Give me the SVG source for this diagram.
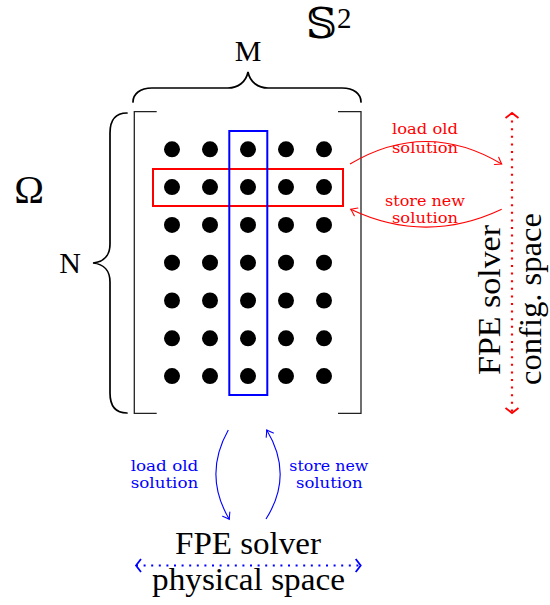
<svg xmlns="http://www.w3.org/2000/svg" width="550" height="605" viewBox="0 0 550 605">
  <style>
    .big { font-family: "Liberation Serif", "DejaVu Serif", serif; fill: #000; }
    .small { font-family: "DejaVu Serif", "Liberation Serif", serif; font-size: 14.5px; text-anchor: middle; }
    .red { fill: #ff0000; }
    .blue { fill: #0000ff; }
    .brace { fill: none; stroke: #000; stroke-width: 1.7; stroke-linecap: round; }
    .frame { fill: none; stroke: #222; stroke-width: 1.3; }
    .dot { fill: #000; }
    .flow { fill: none; stroke-width: 1.1; }
    .dotted { fill: none; stroke-width: 2.2; stroke-dasharray: 2 5.6; }
  </style>
  <defs>
    <marker id="tipRed" markerUnits="userSpaceOnUse" viewBox="-8 -6 10 12" markerWidth="10" markerHeight="12" refX="0" refY="0" orient="auto-start-reverse" overflow="visible">
      <path d="M-6,-4.2 Q-2,-1.2 0,0 Q-2,1.2 -6,4.2" fill="none" stroke="#ff0000" stroke-width="1.1" stroke-linecap="round"/>
    </marker>
    <marker id="tipBlue" markerUnits="userSpaceOnUse" viewBox="-8 -6 10 12" markerWidth="10" markerHeight="12" refX="0" refY="0" orient="auto-start-reverse" overflow="visible">
      <path d="M-6,-4.2 Q-2,-1.2 0,0 Q-2,1.2 -6,4.2" fill="none" stroke="#0000ff" stroke-width="1.1" stroke-linecap="round"/>
    </marker>
    <marker id="chevRed" markerUnits="userSpaceOnUse" viewBox="-8 -8 10 16" markerWidth="10" markerHeight="16" refX="0" refY="0" orient="auto-start-reverse" overflow="visible">
      <path d="M-5,-6.5 L0,0 L-5,6.5" fill="none" stroke="#ff0000" stroke-width="1.8" stroke-dasharray="none"/>
    </marker>
    <marker id="chevBlue" markerUnits="userSpaceOnUse" viewBox="-8 -8 10 16" markerWidth="10" markerHeight="16" refX="0" refY="0" orient="auto-start-reverse" overflow="visible">
      <path d="M-5,-6.5 L0,0 L-5,6.5" fill="none" stroke="#0000ff" stroke-width="1.8" stroke-dasharray="none"/>
    </marker>
  </defs>

  <rect width="550" height="605" fill="#fff"/>

  <!-- domain labels -->
  <g id="labels">
    <text class="big" x="306" y="38" font-size="43" font-family="DejaVu Sans, sans-serif">𝕊</text>
    <text class="big" x="337" y="28" font-size="29">2</text>
    <text class="big" x="29" y="203" font-size="40" text-anchor="middle">Ω</text>
    <text class="big" x="248" y="61" font-size="30" text-anchor="middle">M</text>
    <text class="big" x="70" y="273" font-size="30" text-anchor="middle">N</text>
  </g>

  <!-- braces -->
  <g id="braces">
    <path class="brace" d="M133,102 C133,94 140,88 152,88 L228,88 C238,88 246,82 248,72 C250,82 258,88 268,88 L342,88 C354,88 361,94 361,102"/>
    <path class="brace" d="M127,113 C116,113 110,120 110,133 L110,244 C110,255 104,262 93,263 C104,264 110,271 110,282 L110,393 C110,406 116,413 127,413"/>
  </g>

  <!-- grid frame -->
  <g id="grid-frame">
    <path class="frame" d="M156.7,111.7 L134.3,111.7 L134.3,413.3 L156.7,413.3"/>
    <path class="frame" d="M338,111.7 L361,111.7 L361,413.3 L338,413.3"/>
  </g>

  <!-- grid points -->
  <g id="grid-points">
    <g class="dot">
      <circle cx="172" cy="149.3" r="8"/><circle cx="210" cy="149.3" r="8"/><circle cx="248" cy="149.3" r="8"/><circle cx="286" cy="149.3" r="8"/><circle cx="324" cy="149.3" r="8"/>
      <circle cx="172" cy="187.1" r="8"/><circle cx="210" cy="187.1" r="8"/><circle cx="248" cy="187.1" r="8"/><circle cx="286" cy="187.1" r="8"/><circle cx="324" cy="187.1" r="8"/>
      <circle cx="172" cy="224.9" r="8"/><circle cx="210" cy="224.9" r="8"/><circle cx="248" cy="224.9" r="8"/><circle cx="286" cy="224.9" r="8"/><circle cx="324" cy="224.9" r="8"/>
      <circle cx="172" cy="262.7" r="8"/><circle cx="210" cy="262.7" r="8"/><circle cx="248" cy="262.7" r="8"/><circle cx="286" cy="262.7" r="8"/><circle cx="324" cy="262.7" r="8"/>
      <circle cx="172" cy="300.5" r="8"/><circle cx="210" cy="300.5" r="8"/><circle cx="248" cy="300.5" r="8"/><circle cx="286" cy="300.5" r="8"/><circle cx="324" cy="300.5" r="8"/>
      <circle cx="172" cy="338.3" r="8"/><circle cx="210" cy="338.3" r="8"/><circle cx="248" cy="338.3" r="8"/><circle cx="286" cy="338.3" r="8"/><circle cx="324" cy="338.3" r="8"/>
      <circle cx="172" cy="376.1" r="8"/><circle cx="210" cy="376.1" r="8"/><circle cx="248" cy="376.1" r="8"/><circle cx="286" cy="376.1" r="8"/><circle cx="324" cy="376.1" r="8"/>
    </g>
  </g>

  <!-- row and column selections -->
  <g id="row-selection">
    <rect x="153" y="169" width="190" height="37" fill="none" stroke="#ff0000" stroke-width="2"/>
  </g>
  <g id="column-selection">
    <rect x="229.3" y="131" width="38" height="264" fill="none" stroke="#0000ff" stroke-width="2"/>
  </g>

  <!-- solvers -->
  <g id="config-solver">
    <text class="big" font-size="32" text-anchor="middle" transform="translate(500,300) rotate(-90)" textLength="150" lengthAdjust="spacingAndGlyphs">FPE solver</text>
    <text class="big" font-size="32" text-anchor="middle" transform="translate(541,299) rotate(-90)" textLength="172" lengthAdjust="spacingAndGlyphs">config.  space</text>
  </g>
  <g id="physical-solver">
    <text class="big" x="248" y="554.3" font-size="32" text-anchor="middle" textLength="146" lengthAdjust="spacingAndGlyphs">FPE solver</text>
    <text class="big" x="248.5" y="590" font-size="32" text-anchor="middle" textLength="193" lengthAdjust="spacingAndGlyphs">physical space</text>
  </g>

  <!-- connectors -->
  <g id="connectors">
    <path class="dotted" stroke="#ff0000" d="M512,113 L512,413" marker-start="url(#chevRed)" marker-end="url(#chevRed)"/>
    <path class="dotted" stroke="#0000ff" d="M136,565.5 L360.7,565.5" marker-start="url(#chevBlue)" marker-end="url(#chevBlue)"/>

    <path class="flow" stroke="#ff0000" d="M350,164 Q426,119 501.7,164" marker-end="url(#tipRed)"/>
    <path class="flow" stroke="#ff0000" d="M501.7,209.3 Q426,245 350.7,209.3" marker-end="url(#tipRed)"/>

    <path class="flow" stroke="#0000ff" d="M228.3,430 Q203,475 229.3,519.3" marker-end="url(#tipBlue)"/>
    <path class="flow" stroke="#0000ff" d="M266,519 Q294,475 266.7,430" marker-end="url(#tipBlue)"/>
  </g>

  <!-- connector labels -->
  <g id="connector-labels">
    <text class="small red" x="425" y="134" textLength="66" lengthAdjust="spacingAndGlyphs">load old</text>
    <text class="small red" x="425" y="153" textLength="66" lengthAdjust="spacingAndGlyphs">solution</text>
    <text class="small red" x="425" y="206" textLength="80" lengthAdjust="spacingAndGlyphs">store new</text>
    <text class="small red" x="425" y="223.3" textLength="66" lengthAdjust="spacingAndGlyphs">solution</text>

    <text class="small blue" x="164.5" y="470.7" textLength="67.6" lengthAdjust="spacingAndGlyphs">load old</text>
    <text class="small blue" x="164.5" y="488.3" textLength="67.6" lengthAdjust="spacingAndGlyphs">solution</text>
    <text class="small blue" x="328.8" y="470.7" textLength="79" lengthAdjust="spacingAndGlyphs">store new</text>
    <text class="small blue" x="329.3" y="488.3" textLength="66.7" lengthAdjust="spacingAndGlyphs">solution</text>
  </g>
</svg>
